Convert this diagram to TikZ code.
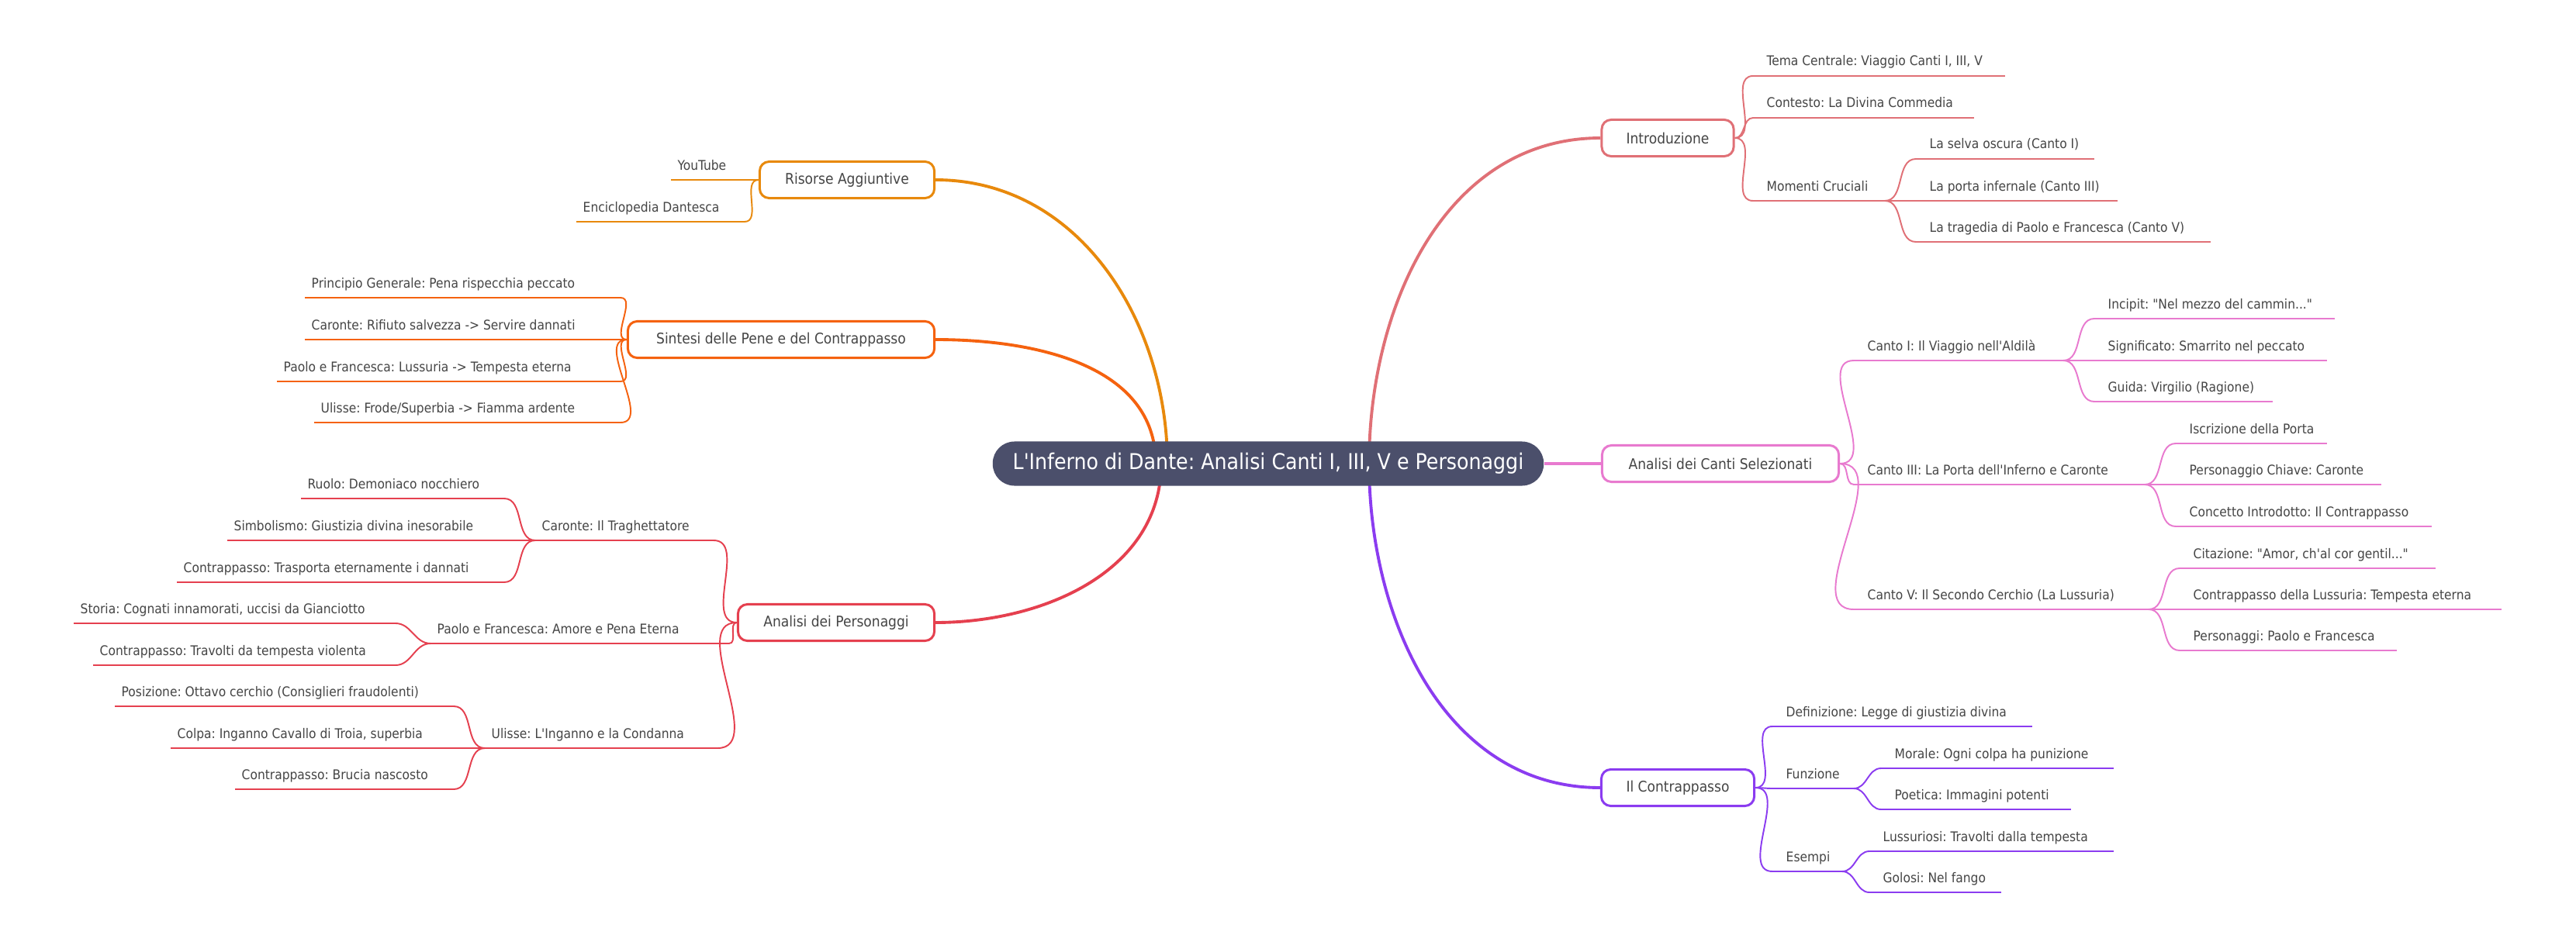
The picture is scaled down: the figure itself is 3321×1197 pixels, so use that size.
\documentclass[tikz,border=0pt]{standalone}
\usepackage{fontspec}
\newfontfamily\mf{DejaVu Sans Condensed}
\frenchspacing
\pgfdeclarelayer{bg}\pgfsetlayers{bg,main}
\definecolor{cIntro}{HTML}{E07076}
\definecolor{cCanti}{HTML}{E87ACF}
\definecolor{cContr}{HTML}{8B3CF0}
\definecolor{cRis}{HTML}{E8890C}
\definecolor{cSin}{HTML}{F5620F}
\definecolor{cPers}{HTML}{E5404F}
\definecolor{cRoot}{HTML}{4B4F6B}
\definecolor{cTxt}{HTML}{454545}
\tikzset{
 leaftext/.style={font=\mf\frenchspacing\fontsize{4.9}{6}\selectfont, text=cTxt, inner sep=0pt},
 branch/.style={draw=#1, line width=0.85pt, fill=white, rounded corners=0.12cm, minimum height=0.47cm, font=\mf\frenchspacing\fontsize{5.4}{6.5}\selectfont, text=cTxt, inner sep=0pt},
 rootnode/.style={fill=cRoot, rounded corners=0.28cm, minimum height=0.57cm, minimum width=7.1cm, font=\mf\frenchspacing\fontsize{8}{9.5}\selectfont, text=white, inner sep=0pt},
 mainline/.style={draw=#1, line width=1.1pt},
 subline/.style={draw=#1, line width=0.55pt},
}
\newcommand\RL[6]{%
 \coordinate (#1s) at (#2,#4); \coordinate (#1e) at (#3,#4);
 \draw[subline=#5] (#1s) -- (#1e);
 \node[leaftext, anchor=base west] (#1) at (\the\numexpr#2+17\relax,\the\numexpr#4-13\relax) {#6};}
\newcommand\LL[6]{%
 \coordinate (#1s) at (#2,#4); \coordinate (#1e) at (#3,#4);
 \draw[subline=#5] (#1s) -- (#1e);
 \node[leaftext, anchor=base west] (#1) at (\the\numexpr#2+8\relax,\the\numexpr#4-13\relax) {#6};}
\begin{document}
\begin{tikzpicture}[x=0.01cm,y=-0.01cm]
\useasboundingbox (0,0) rectangle (3321,1197);
\node[rootnode] (root) at (1635,598) {L'Inferno di Dante: Analisi Canti I, III, V e Personaggi};
\node[branch=cIntro, minimum width=1.70cm] (intro) at (2150,178) {Introduzione};
\node[branch=cCanti, minimum width=3.05cm] (acs) at (2218,598) {Analisi dei Canti Selezionati};
\node[branch=cContr, minimum width=1.97cm] (contr) at (2163,1016) {Il Contrappasso};
\node[branch=cRis, minimum width=2.25cm] (ris) at (1092,232) {Risorse Aggiuntive};
\node[branch=cSin, minimum width=3.95cm] (sin) at (1007,438) {Sintesi delle Pene e del Contrappasso};
\node[branch=cPers, minimum width=2.53cm] (pers) at (1078,803) {Analisi dei Personaggi};
% Introduzione
\RL{tema}{2260}{2585}{98}{cIntro}{Tema Centrale: Viaggio Canti I, III, V}
\RL{cont}{2260}{2545}{152}{cIntro}{Contesto: La Divina Commedia}
\RL{mom}{2260}{2430}{259}{cIntro}{Momenti Cruciali}
\RL{selva}{2470}{2700}{205}{cIntro}{La selva oscura (Canto I)}
\RL{porta}{2470}{2730}{259}{cIntro}{La porta infernale (Canto III)}
\RL{trag}{2470}{2850}{312}{cIntro}{La tragedia di Paolo e Francesca (Canto V)}
% Canti
\RL{c1}{2390}{2660}{465}{cCanti}{Canto I: Il Viaggio nell'Aldilà}
\RL{inc}{2700}{3010}{411}{cCanti}{Incipit: "Nel mezzo del cammin..."}
\RL{sig}{2700}{3000}{465}{cCanti}{Significato: Smarrito nel peccato}
\RL{gui}{2700}{2930}{518}{cCanti}{Guida: Virgilio (Ragione)}
\RL{c3}{2390}{2765}{625}{cCanti}{Canto III: La Porta dell'Inferno e Caronte}
\RL{isc}{2805}{3000}{572}{cCanti}{Iscrizione della Porta}
\RL{pch}{2805}{3070}{625}{cCanti}{Personaggio Chiave: Caronte}
\RL{cin}{2805}{3135}{679}{cCanti}{Concetto Introdotto: Il Contrappasso}
\RL{c5}{2390}{2770}{786}{cCanti}{Canto V: Il Secondo Cerchio (La Lussuria)}
\RL{cit}{2810}{3140}{733}{cCanti}{Citazione: "Amor, ch'al cor gentil..."}
\RL{cdl}{2810}{3225}{786}{cCanti}{Contrappasso della Lussuria: Tempesta eterna}
\RL{ppf}{2810}{3090}{839}{cCanti}{Personaggi: Paolo e Francesca}
% Contrappasso
\RL{def}{2285}{2620}{937}{cContr}{Definizione: Legge di giustizia divina}
\RL{fun}{2285}{2390}{1017}{cContr}{Funzione}
\RL{mor}{2425}{2725}{991}{cContr}{Morale: Ogni colpa ha punizione}
\RL{poe}{2425}{2670}{1044}{cContr}{Poetica: Immagini potenti}
\RL{ese}{2285}{2375}{1124}{cContr}{Esempi}
\RL{lus}{2410}{2725}{1098}{cContr}{Lussuriosi: Travolti dalla tempesta}
\RL{gol}{2410}{2580}{1151}{cContr}{Golosi: Nel fango}
% Risorse
\LL{yt}{865}{970}{232}{cRis}{YouTube}
\LL{enc}{743}{960}{286}{cRis}{Enciclopedia Dantesca}
% Sintesi
\LL{pg}{393}{800}{384}{cSin}{Principio Generale: Pena rispecchia peccato}
\LL{car}{393}{810}{438}{cSin}{Caronte: Rifiuto salvezza -> Servire dannati}
\LL{pfl}{357}{800}{492}{cSin}{Paolo e Francesca: Lussuria -> Tempesta eterna}
\LL{ulf}{405}{800}{545}{cSin}{Ulisse: Frode/Superbia -> Fiamma ardente}
% Personaggi
\LL{pc}{690}{920}{697}{cPers}{Caronte: Il Traghettatore}
\LL{ruo}{388}{650}{643}{cPers}{Ruolo: Demoniaco nocchiero}
\LL{sim}{293}{650}{697}{cPers}{Simbolismo: Giustizia divina inesorabile}
\LL{ctr}{228}{650}{751}{cPers}{Contrappasso: Trasporta eternamente i dannati}
\LL{pp}{555}{940}{830}{cPers}{Paolo e Francesca: Amore e Pena Eterna}
\LL{sto}{95}{510}{804}{cPers}{Storia: Cognati innamorati, uccisi da Gianciotto}
\LL{ctv}{120}{510}{858}{cPers}{Contrappasso: Travolti da tempesta violenta}
\LL{pu}{625}{925}{965}{cPers}{Ulisse: L'Inganno e la Condanna}
\LL{pos}{148}{585}{911}{cPers}{Posizione: Ottavo cerchio (Consiglieri fraudolenti)}
\LL{col}{220}{585}{965}{cPers}{Colpa: Inganno Cavallo di Troia, superbia}
\LL{cbn}{303}{585}{1018}{cPers}{Contrappasso: Brucia nascosto}
\begin{pgfonlayer}{bg}
\fill[white] (0,0) rectangle (3321,1197);
\coordinate (rA) at (1765,598); \coordinate (rB) at (1505,598);
\coordinate (rC) at (1490,598); \coordinate (rD) at (1497,598);
\draw[mainline=cIntro] (rA) to[out=90,in=180] (intro.west);
\draw[mainline=cContr] (rA) to[out=-90,in=180] (contr.west);
\draw[mainline=cCanti] (root.east) -- (acs.west);
\draw[mainline=cRis] (rB) to[out=90,in=0] (ris.east);
\draw[mainline=cSin] (rC) to[out=90,in=0] (sin.east);
\draw[mainline=cPers] (rD) to[out=-90,in=0] (pers.east);
\foreach \c in {tema,cont,mom} \draw[subline=cIntro] (intro.east) to[out=0,in=180] (\c s);
\foreach \c in {selva,porta,trag} \draw[subline=cIntro] (mome) to[out=0,in=180] (\c s);
\foreach \c in {c1,c3,c5} \draw[subline=cCanti] (acs.east) to[out=0,in=180] (\c s);
\foreach \c in {inc,sig,gui} \draw[subline=cCanti] (c1e) to[out=0,in=180] (\c s);
\foreach \c in {isc,pch,cin} \draw[subline=cCanti] (c3e) to[out=0,in=180] (\c s);
\foreach \c in {cit,cdl,ppf} \draw[subline=cCanti] (c5e) to[out=0,in=180] (\c s);
\foreach \c in {def,fun,ese} \draw[subline=cContr] (contr.east) to[out=0,in=180] (\c s);
\foreach \c in {mor,poe} \draw[subline=cContr] (fune) to[out=0,in=180] (\c s);
\foreach \c in {lus,gol} \draw[subline=cContr] (esee) to[out=0,in=180] (\c s);
\foreach \c in {yt,enc} \draw[subline=cRis] (ris.west) to[out=180,in=0] (\c e);
\foreach \c in {pg,car,pfl,ulf} \draw[subline=cSin] (sin.west) to[out=180,in=0] (\c e);
\foreach \c in {pc,pp,pu} \draw[subline=cPers] (pers.west) to[out=180,in=0] (\c e);
\foreach \c in {ruo,sim,ctr} \draw[subline=cPers] (pcs) to[out=180,in=0] (\c e);
\foreach \c in {sto,ctv} \draw[subline=cPers] (pps) to[out=180,in=0] (\c e);
\foreach \c in {pos,col,cbn} \draw[subline=cPers] (pus) to[out=180,in=0] (\c e);
\end{pgfonlayer}
\end{tikzpicture}
\end{document}
